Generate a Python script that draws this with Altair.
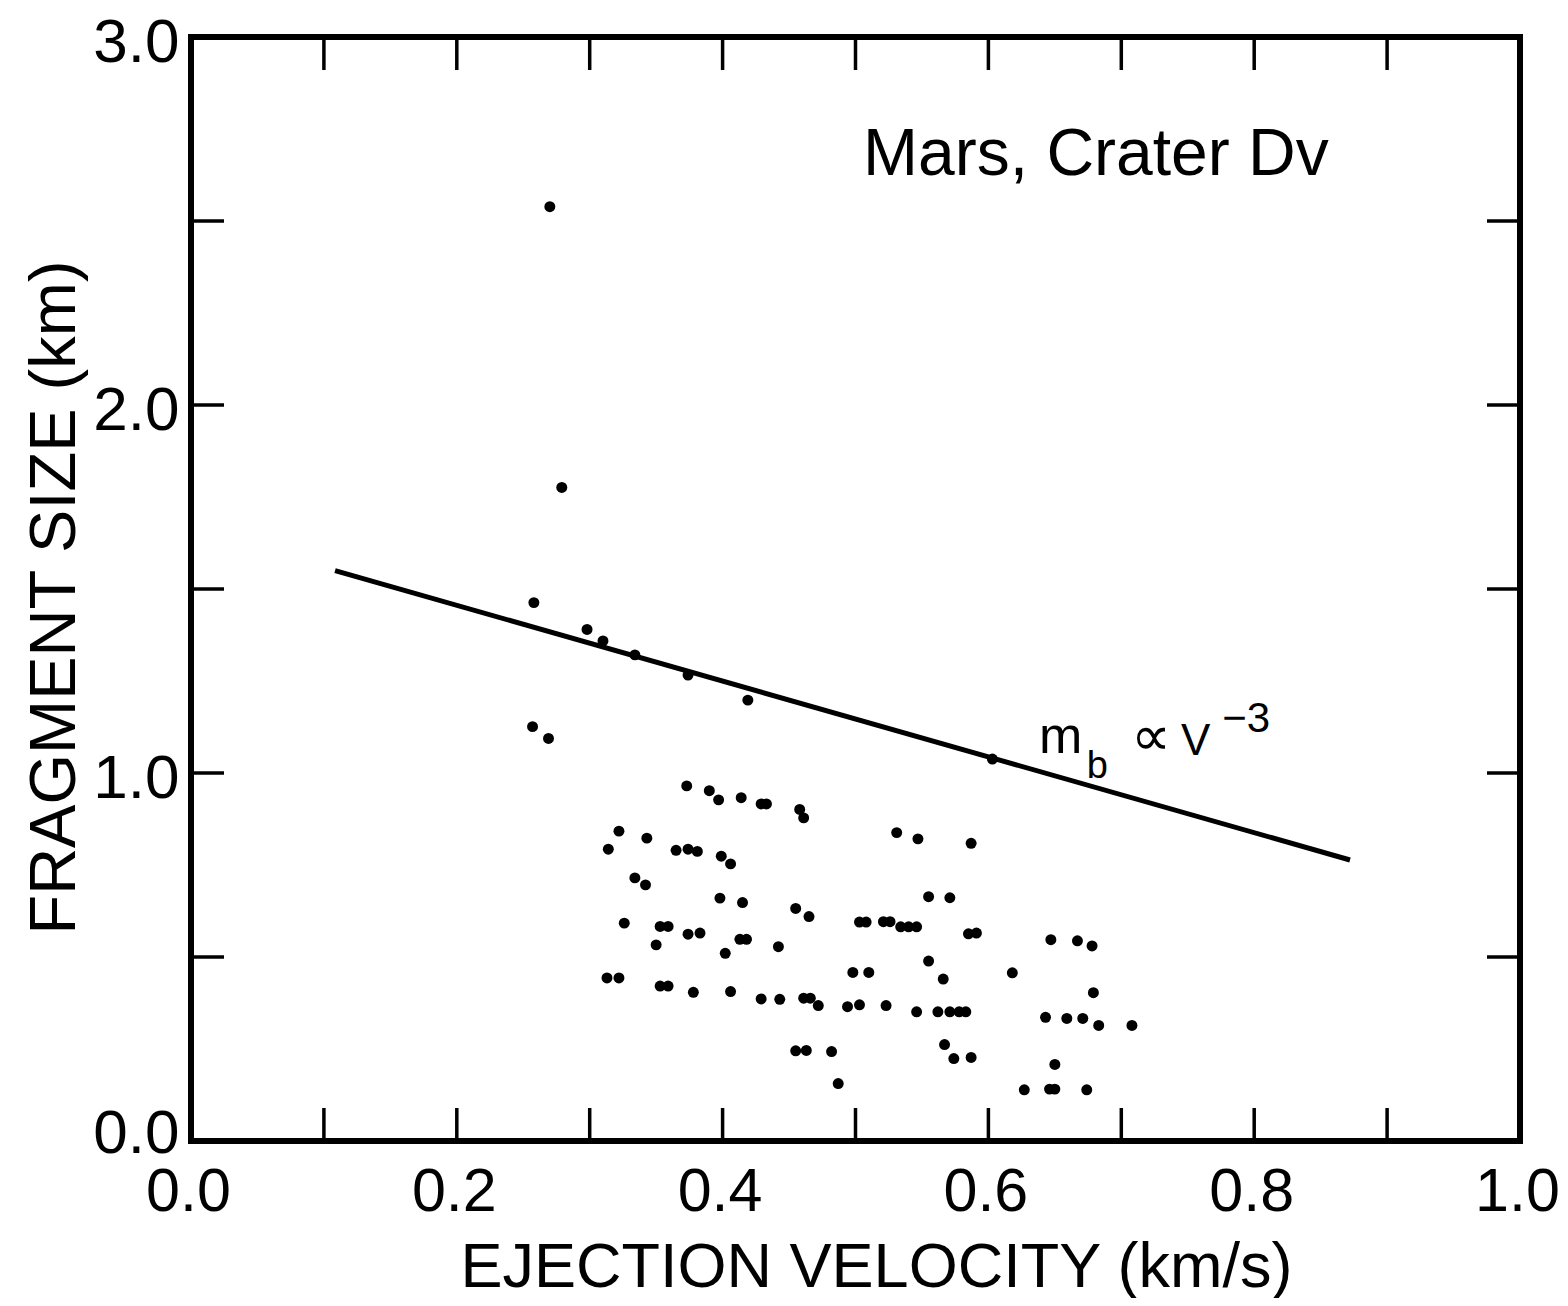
import altair as alt
import pandas as pd

# ---------------- data ----------------
velocity = [
    0.270, 0.279, 0.258, 0.298, 0.310, 0.334, 0.374, 0.419, 0.257, 0.269,
    0.603, 0.373, 0.390, 0.397, 0.414, 0.429, 0.433, 0.458, 0.461, 0.322,
    0.314, 0.343, 0.365, 0.374, 0.381, 0.399, 0.406, 0.531, 0.547, 0.587,
    0.334, 0.342, 0.398, 0.415, 0.455, 0.465, 0.555, 0.571, 0.326, 0.353,
    0.359, 0.374, 0.383, 0.350, 0.402, 0.413, 0.418, 0.442, 0.503, 0.508,
    0.521, 0.526, 0.534, 0.540, 0.546, 0.585, 0.591, 0.555, 0.566, 0.498,
    0.510, 0.313, 0.322, 0.353, 0.359, 0.378, 0.406, 0.429, 0.443, 0.461,
    0.466, 0.472, 0.494, 0.503, 0.523, 0.546, 0.562, 0.571, 0.578, 0.583,
    0.455, 0.463, 0.482, 0.567, 0.574, 0.587, 0.487, 0.647, 0.667, 0.678,
    0.618, 0.679, 0.643, 0.659, 0.671, 0.683, 0.708, 0.650, 0.627, 0.646,
    0.650, 0.674,
]
fragment_size = [
    2.539, 1.776, 1.463, 1.390, 1.359, 1.321, 1.266, 1.198, 1.126, 1.094,
    1.038, 0.965, 0.952, 0.927, 0.933, 0.916, 0.916, 0.901, 0.878, 0.842,
    0.793, 0.823, 0.790, 0.793, 0.787, 0.774, 0.753, 0.838, 0.821, 0.809,
    0.715, 0.696, 0.660, 0.648, 0.632, 0.610, 0.664, 0.661, 0.592, 0.583,
    0.583, 0.562, 0.565, 0.533, 0.510, 0.548, 0.548, 0.528, 0.595, 0.595,
    0.596, 0.596, 0.582, 0.582, 0.582, 0.563, 0.565, 0.489, 0.440, 0.458,
    0.458, 0.443, 0.443, 0.421, 0.421, 0.404, 0.406, 0.386, 0.385, 0.388,
    0.388, 0.368, 0.365, 0.370, 0.368, 0.351, 0.351, 0.351, 0.351, 0.351,
    0.245, 0.246, 0.243, 0.262, 0.224, 0.227, 0.156, 0.547, 0.544, 0.530,
    0.457, 0.403, 0.336, 0.333, 0.333, 0.314, 0.314, 0.208, 0.139, 0.141,
    0.141, 0.139,
]

# power-law fit line (m_b ∝ V^-3), end points
line_velocity = [0.1084, 0.8721]
line_size = [1.550, 0.7636]

# axis ticks / labels
x_label_values = [0.0, 0.2, 0.4, 0.6, 0.8, 1.0]
y_label_values = [0.0, 1.0, 2.0, 3.0]
x_minor_ticks = [0.1, 0.2, 0.3, 0.4, 0.5, 0.6, 0.7, 0.8, 0.9]
y_minor_ticks = [0.5, 1.0, 1.5, 2.0, 2.5]

# annotations
ann_text = ["Mars, Crater Dv", "m", "b", "∝", "V", "−3"]
ann_v = [0.5057, 0.638, 0.674, 0.707, 0.745, 0.776]
ann_s = [2.625, 1.054, 0.986, 1.049, 1.049, 1.111]
ann_fs = [66, 52, 38, 56, 44, 42]

X_TITLE = "EJECTION VELOCITY (km/s)"
Y_TITLE = "FRAGMENT SIZE (km)"

# ---------------- layout ----------------
W, H = 1329, 1104
FONT = "Liberation Sans"
TICK_LEN = 33


def xenc():
    return alt.X(
        "v:Q",
        scale=alt.Scale(domain=[0, 1], nice=False, zero=False),
        axis=alt.Axis(
            title=X_TITLE,
            values=x_label_values,
            format=".1f",
            grid=False,
            domain=False,
            ticks=False,
            tickSize=0,
            labelFont=FONT,
            labelFontSize=61,
            labelColor="black",
            labelPadding=21,
            labelOffset=-3,
            labelFlush=False,
            labelOverlap=False,
            titleFont=FONT,
            titleFontSize=63,
            titleFontWeight="normal",
            titleColor="black",
            titleX=685,
            titleY=145,
            titleBaseline="alphabetic",
            titleAlign="center",
        ),
    )


def yenc():
    return alt.Y(
        "s:Q",
        scale=alt.Scale(domain=[0, 3], nice=False, zero=False),
        axis=alt.Axis(
            title=Y_TITLE,
            values=y_label_values,
            format=".1f",
            grid=False,
            domain=False,
            ticks=False,
            tickSize=0,
            labelFont=FONT,
            labelFontSize=62,
            labelColor="black",
            labelPadding=12,
            labelOffset={"condition": {"test": "datum.value == 0", "value": -8}, "value": 5},
            labelFlush=False,
            labelOverlap=False,
            titleFont=FONT,
            titleFontSize=65,
            titleFontWeight="normal",
            titleColor="black",
            titleAngle=270,
            titleX=-137,
            titleY=560,
            titleBaseline="middle",
            titleAlign="center",
        ),
    )


pts = pd.DataFrame({"v": velocity, "s": fragment_size})
fit = pd.DataFrame({"v": line_velocity, "s": line_size})
xt = pd.DataFrame({"v": x_minor_ticks})
yt = pd.DataFrame({"s": y_minor_ticks})
ann = pd.DataFrame({"t": ann_text, "v": ann_v, "s": ann_s, "fs": ann_fs})

points = alt.Chart(pts).mark_circle(color="black", opacity=1, size=120).encode(
    x=xenc(), y=yenc()
)

fit_line = alt.Chart(fit).mark_line(color="black", strokeWidth=5).encode(
    x=xenc(), y=yenc()
)

tick_style = dict(color="black", strokeWidth=3.5)
top_ticks = alt.Chart(xt).mark_rule(**tick_style).encode(
    x=xenc(), y=alt.value(0), y2=alt.value(TICK_LEN)
)
bottom_ticks = alt.Chart(xt).mark_rule(**tick_style).encode(
    x=xenc(), y=alt.value(H), y2=alt.value(H - TICK_LEN)
)
left_ticks = alt.Chart(yt).mark_rule(**tick_style).encode(
    y=yenc(), x=alt.value(0), x2=alt.value(TICK_LEN)
)
right_ticks = alt.Chart(yt).mark_rule(**tick_style).encode(
    y=yenc(), x=alt.value(W), x2=alt.value(W - TICK_LEN)
)

labels = alt.Chart(ann).mark_text(
    align="left", baseline="alphabetic", font=FONT, color="black"
).encode(
    x=xenc(), y=yenc(), text="t:N", size=alt.Size("fs:Q", scale=None, legend=None)
)

chart = (
    alt.layer(top_ticks, bottom_ticks, left_ticks, right_ticks, fit_line, points, labels)
    .properties(
        width=W,
        height=H,
        autosize=alt.AutoSizeParams(type="none"),
        padding={"left": 183, "top": 29, "right": 40, "bottom": 157},
        background="white",
    )
    .configure_view(stroke="black", strokeWidth=6)
)

chart.save("out.html", embed_options={"renderer": "svg", "actions": False})
